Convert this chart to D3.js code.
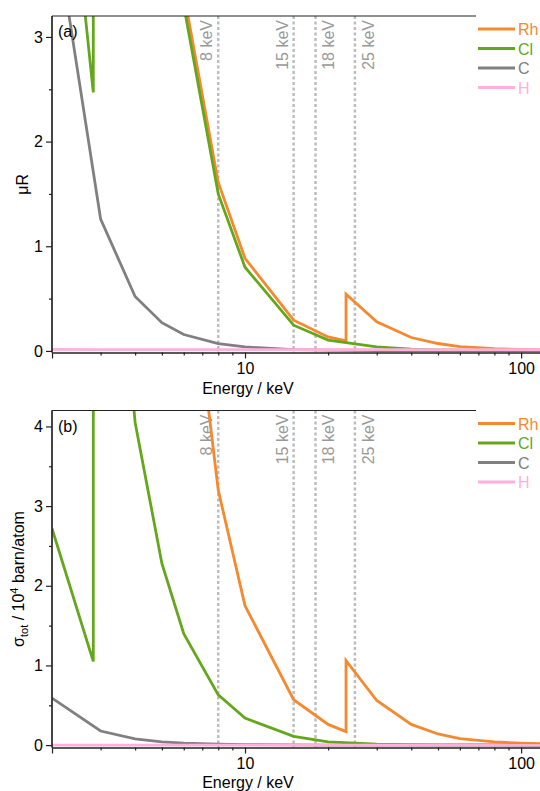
<!DOCTYPE html>
<html>
<head>
<meta charset="utf-8">
<script src="https://cdn.jsdelivr.net/npm/d3@7"></script>
<style>
  body { margin: 0; background: #fff; }
  svg { display: block; font-family: "Liberation Sans", Arial, sans-serif; }
</style>
</head>
<body>
<svg id="chart" width="540" height="791"></svg>
<script>
// energies (keV) for each element, absorption edges repeated
const energyCl = [2, 2.822, 2.822, 3, 4, 5, 6, 8, 10, 15, 20, 30, 40, 50, 60, 80, 100, 150];
const energyRh = [2, 3, 4, 5, 6, 8, 10, 15, 20, 23.22, 23.22, 30, 40, 50, 60, 80, 100, 150];
const energyC = [2, 3, 4, 5, 6, 8, 10, 15, 20, 30, 40, 50, 60, 80, 100, 150];
const energyH = [2, 3, 4, 5, 6, 8, 10, 15, 20, 30, 40, 50, 60, 80, 100, 150];

// panel (a): muR
const muRh = [40, 28, 16, 5.8, 3.42, 1.61, 0.885, 0.294, 0.134, 0.096, 0.543, 0.278, 0.128, 0.071, 0.042, 0.022, 0.014, 0.006];
const muCl = [6.25, 2.47, 23, 20.5, 9.6, 5.43, 3.3, 1.5, 0.80, 0.246, 0.103, 0.038, 0.018, 0.011, 0.008, 0.005, 0.004, 0.003];
const muC = [4.25, 1.26, 0.52, 0.27, 0.157, 0.07, 0.038, 0.013, 0.007, 0.004, 0.003, 0.003, 0.002, 0.002, 0.002, 0.002];
const muH = [0.014, 0.013, 0.013, 0.012, 0.012, 0.012, 0.012, 0.012, 0.012, 0.012, 0.012, 0.012, 0.012, 0.012, 0.012, 0.012];

// panel (b): sigma_tot / 1e4 barn/atom
const sigRh = [60, 40, 22, 11.6, 6.8, 3.2, 1.75, 0.57, 0.26, 0.17, 1.06, 0.56, 0.26, 0.14, 0.08, 0.04, 0.025, 0.01];
const sigCl = [2.72, 1.05, 10.5, 8.9, 4.05, 2.28, 1.40, 0.63, 0.34, 0.11, 0.04, 0.013, 0.007, 0.004, 0.003, 0.002, 0.0015, 0.001];
const sigC = [0.59, 0.177, 0.077, 0.04, 0.024, 0.011, 0.006, 0.002, 0.001, 0.0005, 0.0004, 0.0003, 0.0003, 0.0002, 0.0002, 0.0002];
const sigH = [0.0002, 0.0001, 0.0001, 0.0001, 0.0001, 0.0001, 0.0001, 0.0001, 0.0001, 0.0001, 0.0001, 0.0001, 0.0001, 0.0001, 0.0001, 0.0001];

const elements = ["Rh", "Cl", "C", "H"];
const colors = ["#F4892F", "#64A71C", "#808080", "#FFB0DB"];
const markerEnergies = [8, 15, 18, 25];
const markerLabels = ["8 keV", "15 keV", "18 keV", "25 keV"];

var svg = d3.select("#chart");

function drawPanel(opt) {
    var x = d3.scaleLog().domain([2, 120]).range([52, 543]);
    var y = d3.scaleLinear().domain(opt.yDomain).range([opt.bottom, opt.top]);

    var clipId = "clip-" + opt.id;
    svg.append("clipPath").attr("id", clipId)
        .append("rect")
        .attr("x", 52).attr("y", opt.top)
        .attr("width", 540 - 52).attr("height", opt.bottom - opt.top);

    // dotted marker lines
    var markers = svg.append("g");
    markerEnergies.forEach((e, i) => {
        markers.append("line")
            .attr("x1", x(e)).attr("x2", x(e))
            .attr("y1", opt.top).attr("y2", opt.bottom)
            .attr("stroke", "#BDBDBD")
            .attr("stroke-width", 2.5)
            .attr("stroke-dasharray", "3,2.5");
        var dx = e < 17 ? -6 : 19;
        markers.append("text")
            .attr("transform", `translate(${x(e) + dx},${opt.top + 4}) rotate(-90)`)
            .attr("text-anchor", "end")
            .attr("font-size", 16)
            .attr("fill", "#999")
            .text(markerLabels[i]);
    });

    // curves
    var line = d3.line().x(d => x(d[0])).y(d => y(d[1]));
    var plot = svg.append("g").attr("clip-path", `url(#${clipId})`);
    opt.series.forEach((s, i) => {
        plot.append("path")
            .datum(d3.zip(s.e, s.v))
            .attr("fill", "none")
            .attr("stroke", colors[i])
            .attr("stroke-width", 2.8)
            .attr("stroke-linejoin", "miter")
            .attr("d", line);
    });

    // top frame line
    svg.append("line")
        .attr("x1", 52).attr("x2", 540)
        .attr("y1", opt.top).attr("y2", opt.top)
        .attr("stroke", "#222").attr("stroke-width", 1.2);

    // x axis
    var minorX = [3, 4, 5, 6, 7, 8, 9, 20, 30, 40, 50, 60, 70, 80, 90];
    var gx = svg.append("g").attr("transform", `translate(0,${opt.bottom})`);
    gx.call(d3.axisBottom(x).tickValues(minorX).tickSize(3).tickSizeOuter(0).tickFormat(""));
    gx.append("g").call(d3.axisBottom(x).tickValues([2, 10, 100]).tickSize(6).tickSizeOuter(0)
        .tickFormat(d => d == 2 ? "" : d));
    gx.selectAll("g g.tick text").attr("font-size", 16).attr("fill", "#000").attr("dy", "0.75em").attr("y", 9);
    gx.selectAll("path.domain").attr("stroke", "#222").attr("stroke-width", 1.2);
    gx.selectAll("line").attr("stroke", "#222").attr("stroke-width", 1.2);

    svg.append("text")
        .attr("x", 248).attr("y", opt.bottom + opt.xLabelDy)
        .attr("text-anchor", "middle")
        .attr("font-size", 16)
        .text("Energy / keV");

    // y axis
    var gy = svg.append("g").attr("transform", "translate(52,0)");
    gy.call(d3.axisLeft(y).tickValues(opt.yMinor).tickSize(3).tickSizeOuter(0).tickFormat(""));
    gy.append("g").call(d3.axisLeft(y).tickValues(opt.yMajor).tickSize(6).tickSizeOuter(0).tickFormat(d3.format("d")));
    gy.selectAll("g g.tick text").attr("font-size", 16).attr("fill", "#000").attr("x", -9);
    gy.selectAll("path.domain").attr("stroke", "#222").attr("stroke-width", 1.2)
        .attr("d", `M0,${opt.top}V${opt.bottom}`);
    gy.selectAll("line").attr("stroke", "#222").attr("stroke-width", 1.2);

    // y label
    var yl = svg.append("text")
        .attr("transform", `translate(${opt.yLabelX},${(opt.top + opt.bottom) / 2}) rotate(-90)`)
        .attr("text-anchor", "middle")
        .attr("font-size", 16);
    opt.yLabel(yl);

    // panel letter
    svg.append("text")
        .attr("x", 58).attr("y", opt.top + 21)
        .attr("font-size", 16)
        .text("(" + opt.id + ")");

    // legend
    var legend = svg.append("g").attr("transform", `translate(476,${opt.top})`);
    legend.append("rect")
        .attr("x", 0).attr("y", -1.5)
        .attr("width", 70).attr("height", 82)
        .attr("fill", "#fff");
    elements.forEach((name, i) => {
        var ly = 13 + i * 19.5;
        legend.append("line")
            .attr("x1", 2).attr("x2", 39)
            .attr("y1", ly).attr("y2", ly)
            .attr("stroke", colors[i]).attr("stroke-width", 2.8);
        legend.append("text")
            .attr("x", 42).attr("y", ly + 6)
            .attr("font-size", 16)
            .attr("fill", colors[i])
            .text(name);
    });
}

drawPanel({
    id: "a", top: 16, bottom: 352.5, yDomain: [-0.015, 3.2],
    yMajor: [0, 1, 2, 3], yMinor: [0.5, 1.5, 2.5],
    xLabelDy: 41, yLabelX: 28,
    series: [
        { e: energyRh, v: muRh },
        { e: energyCl, v: muCl },
        { e: energyC, v: muC },
        { e: energyH, v: muH }
    ],
    yLabel: t => t.text("\u03bcR")
});

drawPanel({
    id: "b", top: 410.5, bottom: 747.5, yDomain: [-0.03, 4.2],
    yMajor: [0, 1, 2, 3, 4], yMinor: [0.5, 1.5, 2.5, 3.5],
    xLabelDy: 40, yLabelX: 24,
    series: [
        { e: energyRh, v: sigRh },
        { e: energyCl, v: sigCl },
        { e: energyC, v: sigC },
        { e: energyH, v: sigH }
    ],
    yLabel: t => {
        t.append("tspan").text("\u03c3");
        t.append("tspan").attr("font-size", 11).attr("dy", 4).text("tot");
        t.append("tspan").attr("dy", -4).text(" / 10");
        t.append("tspan").attr("font-size", 11).attr("dy", -6).text("4");
        t.append("tspan").attr("dy", 6).text(" barn/atom");
    }
});
</script>
</body>
</html>
